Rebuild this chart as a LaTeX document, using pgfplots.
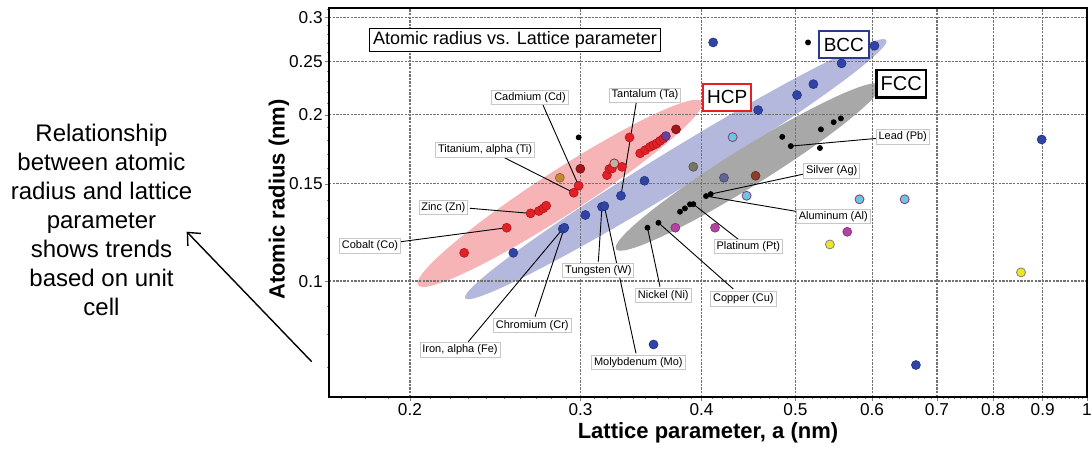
\documentclass[border=0pt]{standalone}
\usepackage{fontspec}
\setmainfont{Liberation Sans}
\usepackage{pgfplots}
\pgfplotsset{compat=1.18}
\usetikzlibrary{shapes.geometric,arrows.meta}

\definecolor{hcpred}{RGB}{228,32,38}
\definecolor{darkred}{RGB}{165,22,26}
\definecolor{bccblue}{RGB}{48,68,168}
\definecolor{slate}{RGB}{98,100,150}
\definecolor{cyanpt}{RGB}{105,200,220}
\definecolor{magpt}{RGB}{178,68,160}
\definecolor{yelpt}{RGB}{238,228,40}
\definecolor{olivept}{RGB}{118,118,98}
\definecolor{brownpt}{RGB}{140,62,42}
\definecolor{orangept}{RGB}{196,138,52}
\definecolor{greypt}{RGB}{188,180,170}
\definecolor{purplept}{RGB}{112,62,150}
\definecolor{hcpfill}{RGB}{246,180,182}
\definecolor{bccfill}{RGB}{180,184,220}
\definecolor{fccfill}{RGB}{168,168,168}
\definecolor{gridgray}{RGB}{115,115,115}

\begin{document}
\begin{tikzpicture}
\begin{axis}[
    at={(0,0)}, anchor=south west,
    scale only axis, width=379pt, height=194.5pt,
    set layers,
    xmode=log, ymode=log,
    xmin=0.165, xmax=1, ymin=0.0617, ymax=0.312,
    xtick={0.2,0.3,0.4,0.5,0.6,0.7,0.8,0.9,1},
    xticklabels={0.2,0.3,0.4,0.5,0.6,0.7,0.8,0.9,1},
    ytick={0.1,0.15,0.2,0.25,0.3},
    yticklabels={0.1,0.15,0.2,0.25,0.3},
    minor xtick={0.17,0.18,...,0.99},
    minor ytick={0.07,0.08,...,0.31},
    xtick pos=bottom, ytick pos=left,
    tick align=outside,
    major tick length=2pt, minor tick length=1.2pt,
    tick label style={font=\fontsize{8.6}{10}\selectfont, inner sep=1pt},
    /pgf/number format/assume math mode=true,
    grid=major,
    major grid style={dash pattern=on 1.2pt off 0.6pt, gridgray, line width=0.6pt},
    axis line style={line width=0.6pt},
    xlabel={\bfseries Lattice parameter, a (nm)},
    ylabel={\bfseries Atomic radius (nm)},
    label style={font=\fontsize{11}{13}\selectfont},
    xlabel style={at={(axis description cs:0.5,-0.0925)}, anchor=center},
    ylabel style={at={(axis description cs:-0.066,0.5077)}, anchor=center, rotate=0},
    every axis plot/.append style={only marks, mark=*},
]

\begin{pgfonlayer}{axis background}
\node[ellipse, fill=hcpfill, minimum width=169pt, minimum height=22pt, inner sep=0pt, rotate=32.9]
  at (axis description cs:0.3047,0.5236) {};
\node[ellipse, fill=bccfill, minimum width=247pt, minimum height=19pt, inner sep=0pt, rotate=31.5]
  at (axis description cs:0.4575,0.5856) {};
\node[ellipse, fill=fccfill, minimum width=155.5pt, minimum height=19pt, inner sep=0pt, rotate=31.9]
  at (axis description cs:0.5528,0.5913) {};
\end{pgfonlayer}

% HCP
\addplot[mark size=2.25pt, mark options={fill=hcpred, draw=hcpred!75!black, line width=0.3pt}] coordinates {
  (0.2275,0.1125) (0.2517,0.1249) (0.2664,0.1326) (0.2717,0.1339) (0.2746,0.1354)
  (0.2765,0.1369) (0.2952,0.1445) (0.2987,0.1488) (0.3195,0.1555) (0.3213,0.1595)
  (0.3233,0.1599) (0.3311,0.1610) (0.3371,0.1820) (0.3457,0.1703) (0.3499,0.1726)
  (0.3540,0.1750) (0.3568,0.1762) (0.3597,0.1775) (0.3625,0.1794) (0.3654,0.1812)
};
\addplot[mark size=2.25pt, mark options={fill=darkred, draw=darkred!70!black, line width=0.3pt}] coordinates {
  (0.2999,0.1597) (0.3765,0.1882)
};
\addplot[mark size=2.25pt, mark options={fill=purplept, draw=purplept!70!black, line width=0.3pt}] coordinates {
  (0.3675,0.1830)
};
\addplot[mark size=2.25pt, mark options={fill=greypt, draw=hcpred!80!black, line width=0.4pt}] coordinates {
  (0.3251,0.1633)
};
\addplot[mark size=2.25pt, mark options={fill=orangept, draw=orangept!70!black, line width=0.3pt}] coordinates {
  (0.2856,0.1538)
};
% BCC
\addplot[mark size=2.25pt, mark options={fill=bccblue, draw=bccblue!75!black, line width=0.3pt}] coordinates {
  (0.2557,0.1125) (0.2876,0.1243) (0.2887,0.1249) (0.3035,0.1317) (0.3157,0.1363)
  (0.3175,0.1367) (0.3303,0.1427) (0.3493,0.1519) (0.3569,0.0768) (0.4112,0.2703)
  (0.4576,0.2039) (0.5019,0.2171) (0.5218,0.2272) (0.5580,0.2477) (0.6034,0.2666)
  (0.8979,0.1804) (0.6659,0.0705)
};
\addplot[mark size=2.25pt, mark options={fill=slate, draw=slate!70!black, line width=0.3pt}] coordinates {
  (0.4219,0.1538)
};
% FCC
\addplot[mark size=1.25pt, mark options={fill=black, draw=black}] coordinates {
  (0.2987,0.1820) (0.3518,0.1249) (0.3611,0.1275) (0.3801,0.1335) (0.3846,0.1354)
  (0.3892,0.1377) (0.3923,0.1378) (0.4043,0.1425) (0.4088,0.1437) (0.4846,0.1824)
  (0.4945,0.1755) (0.5300,0.1741) (0.5313,0.1882) (0.5476,0.1939) (0.5571,0.1970)
  (0.5152,0.2703)
};
% other structures
\addplot[mark size=2.25pt, mark options={fill=cyanpt, draw=magpt!80!black, line width=0.4pt}] coordinates {
  (0.4307,0.1822) (0.4452,0.1427) (0.5823,0.1406) (0.6483,0.1406)
};
\addplot[mark size=2.25pt, mark options={fill=magpt, draw=magpt!70!black, line width=0.3pt}] coordinates {
  (0.3759,0.1249) (0.4130,0.1249) (0.5656,0.1228)
};
\addplot[mark size=2.25pt, mark options={fill=yelpt, draw=gray, line width=0.4pt}] coordinates {
  (0.5427,0.1165) (0.8548,0.1037)
};
\addplot[mark size=2.25pt, mark options={fill=olivept, draw=olivept!70!black, line width=0.3pt}] coordinates {
  (0.3923,0.1610)
};
\addplot[mark size=2.25pt, mark options={fill=brownpt, draw=brownpt!70!black, line width=0.3pt}] coordinates {
  (0.4548,0.1551)
};

% leader lines
\begin{scope}[line width=0.45pt]
\draw (axis description cs:0.2823,0.7506) -- (axis cs:0.2987,0.1488);
\draw (axis description cs:0.4059,0.7635) -- (axis cs:0.3303,0.1427);
\draw (axis description cs:0.2296,0.6170) -- (axis cs:0.2952,0.1445);
\draw (axis description cs:0.1860,0.4851) -- (axis cs:0.2664,0.1326);
\draw (axis description cs:0.0946,0.3992) -- (axis cs:0.2517,0.1249);
\draw (axis description cs:0.1838,0.1422) -- (axis cs:0.2876,0.1243);
\draw (axis description cs:0.2718,0.2064) -- (axis cs:0.2887,0.1249);
\draw (axis description cs:0.3553,0.3478) -- (axis cs:0.3157,0.1363);
\draw (axis description cs:0.4050,0.1123) -- (axis cs:0.3175,0.1367);
\draw (axis description cs:0.4367,0.2835) -- (axis cs:0.3518,0.1249);
\draw (axis description cs:0.5334,0.2776) -- (axis cs:0.3611,0.1275);
\draw (axis description cs:0.5400,0.4054) -- (axis cs:0.3923,0.1378);
\draw (axis description cs:0.6191,0.4763) -- (axis cs:0.4043,0.1425);
\draw (axis description cs:0.6266,0.5733) -- (axis cs:0.4088,0.1437);
\draw (axis description cs:0.7234,0.6650) -- (axis cs:0.4945,0.1755);
\end{scope}

% element labels
\tikzset{lbl/.style={fill=white, draw=black!22, line width=0.4pt, inner xsep=1.2pt, inner ysep=1pt,
  font=\fontsize{5.5}{6}\selectfont}}
\node[lbl] at (axis description cs:0.2652,0.7694) {Cadmium (Cd)};
\node[lbl] at (axis description cs:0.4169,0.7763) {Tantalum (Ta)};
\node[lbl] at (axis description cs:0.2058,0.6350) {Titanium, alpha (Ti)};
\node[lbl] at (axis description cs:0.1508,0.4877) {Zinc (Zn)};
\node[lbl] at (axis description cs:0.0541,0.3882) {Cobalt (Co)};
\node[lbl] at (axis description cs:0.1728,0.1208) {Iron, alpha (Fe)};
\node[lbl] at (axis description cs:0.2682,0.1833) {Chromium (Cr)};
\node[lbl] at (axis description cs:0.3553,0.3247) {Tungsten (W)};
\node[lbl] at (axis description cs:0.4081,0.0882) {Molybdenum (Mo)};
\node[lbl] at (axis description cs:0.4410,0.2614) {Nickel (Ni)};
\node[lbl] at (axis description cs:0.5466,0.2519) {Copper (Cu)};
\node[lbl] at (axis description cs:0.5532,0.3864) {Platinum (Pt)};
\node[lbl] at (axis description cs:0.6653,0.4635) {Aluminum (Al)};
\node[lbl] at (axis description cs:0.6632,0.5810) {Silver (Ag)};
\node[lbl] at (axis description cs:0.7569,0.6684) {Lead (Pb)};

% title and structure boxes
\node[fill=white, draw=black, line width=0.5pt, inner xsep=2pt, inner ysep=1.5pt,
  font=\fontsize{9}{10}\selectfont] at (axis description cs:0.2454,0.9183) {Atomic radius vs. Lattice parameter};
\node[fill=white, draw=bccblue!85!black, line width=1pt, inner xsep=2.5pt, minimum height=12pt,
  font=\fontsize{9.5}{10}\selectfont] at (axis description cs:0.6792,0.9062) {BCC};
\node[fill=white, draw=hcpred, line width=1pt, inner xsep=2pt, minimum height=11pt,
  font=\fontsize{9.5}{10}\selectfont] at (axis description cs:0.5253,0.7707) {HCP};
\node[fill=white, draw=black, line width=1.2pt, inner xsep=2pt, minimum height=13pt,
  font=\fontsize{10}{11}\selectfont] at (axis description cs:0.7549,0.8051) {FCC};
\end{axis}

\node[align=center, font=\fontsize{12}{14.5}\selectfont] at (-113.75pt,88.5pt)
  {Relationship\\between atomic\\radius and lattice\\parameter\\shows trends\\based on unit\\cell};
\draw[-{Straight Barb[length=5pt,width=9pt]}, line width=0.7pt] (-8.65pt,17.65pt) -- (-71.15pt,82.65pt);

\pgfresetboundingbox
\path[use as bounding box] (-164.5pt,-27.5pt) rectangle (381pt,198.5pt);
\end{tikzpicture}
\end{document}
